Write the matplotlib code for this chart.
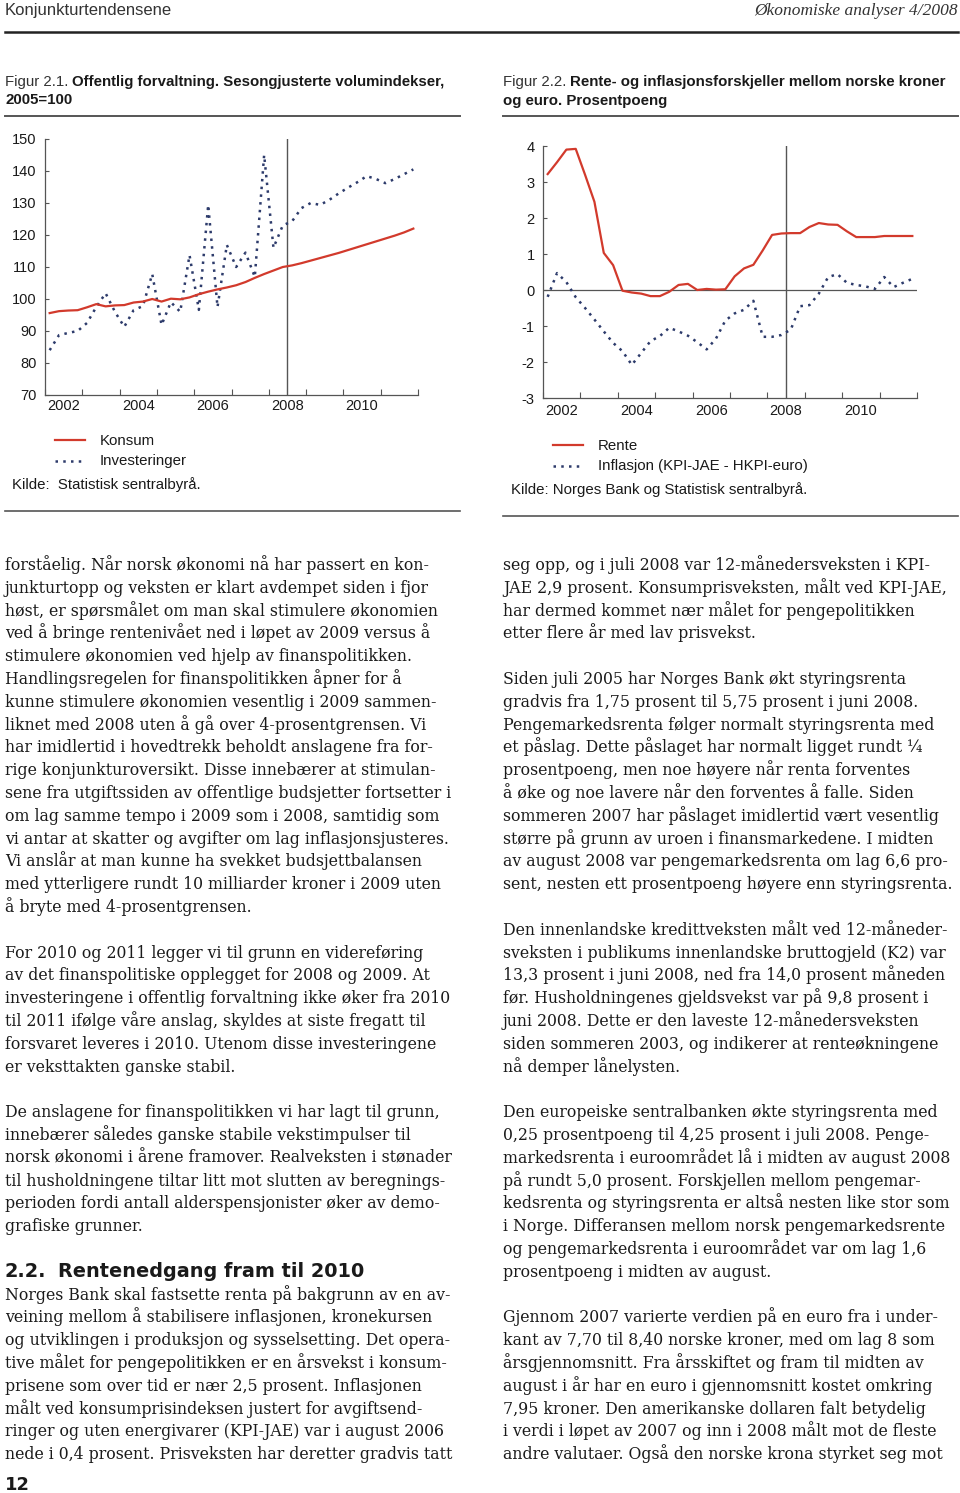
import numpy as np
import matplotlib
matplotlib.use("Agg")
import matplotlib.pyplot as plt
from matplotlib.lines import Line2D

# ---- data -------------------------------------------------------------
# quarterly observations 2002K1 - 2011K4, plotted at quarter midpoints
years = np.arange(2002, 2012)
quarters = np.array([y + (q - 0.5) / 4 for y in years for q in range(1, 5)])

# Figur 2.1 Offentlig forvaltning, 2005=100
konsum = [95.6, 96.2, 96.4, 96.5, 97.4, 98.4, 97.7, 98.0,
          98.1, 98.9, 99.2, 100.0, 99.2, 100.1, 99.9, 100.5,
          101.5, 102.3, 103.0, 103.6, 104.3, 105.3, 106.6, 107.8,
          108.9, 110.0, 110.5, 111.2, 112.0, 112.8, 113.6, 114.4,
          115.3, 116.2, 117.1, 118.0, 118.9, 119.8, 120.8, 122.0]
investeringer = [84.0, 88.7, 89.4, 90.0, 92.5, 97.5, 101.8, 96.0,
                 91.3, 96.5, 97.8, 107.8, 91.9, 99.0, 96.0, 113.7,
                 96.6, 129.4, 97.5, 116.9, 110.0, 114.5, 106.9, 145.0,
                 116.0, 123.0, 124.3, 128.4, 130.0, 129.4, 131.0, 133.0,
                 134.8, 136.5, 138.4, 137.5, 136.2, 137.5, 139.0, 140.5]

# Figur 2.2 Rente- og inflasjonsforskjeller, prosentpoeng
rente = [3.22, 3.55, 3.90, 3.92, 3.20, 2.45, 1.03, 0.69,
         -0.02, -0.07, -0.10, -0.17, -0.17, -0.05, 0.14, 0.17,
         0.00, 0.03, 0.01, 0.02, 0.38, 0.60, 0.70, 1.10,
         1.53, 1.57, 1.58, 1.58, 1.75, 1.86, 1.82, 1.81,
         1.63, 1.47, 1.47, 1.47, 1.50, 1.50, 1.50, 1.50]
inflasjon = [-0.19, 0.47, 0.22, -0.20, -0.50, -0.82, -1.15, -1.47,
             -1.70, -2.08, -1.75, -1.42, -1.28, -1.05, -1.15, -1.27,
             -1.45, -1.65, -1.35, -0.85, -0.65, -0.55, -0.30, -1.30,
             -1.30, -1.25, -1.10, -0.45, -0.42, -0.10, 0.36, 0.44,
             0.20, 0.14, 0.10, 0.03, 0.36, 0.08, 0.20, 0.31]

label_years = [2002, 2004, 2006, 2008, 2010]
prognose_start = 2008.5

left_col = [
    "forståelig. Når norsk økonomi nå har passert en kon-",
    "junkturtopp og veksten er klart avdempet siden i fjor",
    "høst, er spørsmålet om man skal stimulere økonomien",
    "ved å bringe rentenivået ned i løpet av 2009 versus å",
    "stimulere økonomien ved hjelp av finanspolitikken.",
    "Handlingsregelen for finanspolitikken åpner for å",
    "kunne stimulere økonomien vesentlig i 2009 sammen-",
    "liknet med 2008 uten å gå over 4-prosentgrensen. Vi",
    "har imidlertid i hovedtrekk beholdt anslagene fra for-",
    "rige konjunkturoversikt. Disse innebærer at stimulan-",
    "sene fra utgiftssiden av offentlige budsjetter fortsetter i",
    "om lag samme tempo i 2009 som i 2008, samtidig som",
    "vi antar at skatter og avgifter om lag inflasjonsjusteres.",
    "Vi anslår at man kunne ha svekket budsjettbalansen",
    "med ytterligere rundt 10 milliarder kroner i 2009 uten",
    "å bryte med 4-prosentgrensen.",
    "",
    "For 2010 og 2011 legger vi til grunn en videreføring",
    "av det finanspolitiske opplegget for 2008 og 2009. At",
    "investeringene i offentlig forvaltning ikke øker fra 2010",
    "til 2011 ifølge våre anslag, skyldes at siste fregatt til",
    "forsvaret leveres i 2010. Utenom disse investeringene",
    "er veksttakten ganske stabil.",
    "",
    "De anslagene for finanspolitikken vi har lagt til grunn,",
    "innebærer således ganske stabile vekstimpulser til",
    "norsk økonomi i årene framover. Realveksten i stønader",
    "til husholdningene tiltar litt mot slutten av beregnings-",
    "perioden fordi antall alderspensjonister øker av demo-",
    "grafiske grunner.",
    "",
    "",
    "Norges Bank skal fastsette renta på bakgrunn av en av-",
    "veining mellom å stabilisere inflasjonen, kronekursen",
    "og utviklingen i produksjon og sysselsetting. Det opera-",
    "tive målet for pengepolitikken er en årsvekst i konsum-",
    "prisene som over tid er nær 2,5 prosent. Inflasjonen",
    "målt ved konsumprisindeksen justert for avgiftsend-",
    "ringer og uten energivarer (KPI-JAE) var i august 2006",
    "nede i 0,4 prosent. Prisveksten har deretter gradvis tatt",
]

right_col = [
    "seg opp, og i juli 2008 var 12-månedersveksten i KPI-",
    "JAE 2,9 prosent. Konsumprisveksten, målt ved KPI-JAE,",
    "har dermed kommet nær målet for pengepolitikken",
    "etter flere år med lav prisvekst.",
    "",
    "Siden juli 2005 har Norges Bank økt styringsrenta",
    "gradvis fra 1,75 prosent til 5,75 prosent i juni 2008.",
    "Pengemarkedsrenta følger normalt styringsrenta med",
    "et påslag. Dette påslaget har normalt ligget rundt ¼",
    "prosentpoeng, men noe høyere når renta forventes",
    "å øke og noe lavere når den forventes å falle. Siden",
    "sommeren 2007 har påslaget imidlertid vært vesentlig",
    "større på grunn av uroen i finansmarkedene. I midten",
    "av august 2008 var pengemarkedsrenta om lag 6,6 pro-",
    "sent, nesten ett prosentpoeng høyere enn styringsrenta.",
    "",
    "Den innenlandske kredittveksten målt ved 12-måneder-",
    "sveksten i publikums innenlandske bruttogjeld (K2) var",
    "13,3 prosent i juni 2008, ned fra 14,0 prosent måneden",
    "før. Husholdningenes gjeldsvekst var på 9,8 prosent i",
    "juni 2008. Dette er den laveste 12-månedersveksten",
    "siden sommeren 2003, og indikerer at renteøkningene",
    "nå demper lånelysten.",
    "",
    "Den europeiske sentralbanken økte styringsrenta med",
    "0,25 prosentpoeng til 4,25 prosent i juli 2008. Penge-",
    "markedsrenta i euroområdet lå i midten av august 2008",
    "på rundt 5,0 prosent. Forskjellen mellom pengemar-",
    "kedsrenta og styringsrenta er altså nesten like stor som",
    "i Norge. Differansen mellom norsk pengemarkedsrente",
    "og pengemarkedsrenta i euroområdet var om lag 1,6",
    "prosentpoeng i midten av august.",
    "",
    "Gjennom 2007 varierte verdien på en euro fra i under-",
    "kant av 7,70 til 8,40 norske kroner, med om lag 8 som",
    "årsgjennomsnitt. Fra årsskiftet og fram til midten av",
    "august i år har en euro i gjennomsnitt kostet omkring",
    "7,95 kroner. Den amerikanske dollaren falt betydelig",
    "i verdi i løpet av 2007 og inn i 2008 målt mot de fleste",
    "andre valutaer. Også den norske krona styrket seg mot",
]

# ---- style ------------------------------------------------------------
RED = "#d23a2c"
NAVY = "#2d3b6b"
GREY = "#555555"
TXT = "#1a1a1a"
SANS = "Liberation Sans"
SERIF = "DejaVu Serif"
W, H = 960, 1493

plt.rcParams["font.family"] = SANS

fig = plt.figure(figsize=(W / 100, H / 100), dpi=100)
bg = fig.add_axes([0, 0, 1, 1], zorder=0)
bg.set_xlim(0, W)
bg.set_ylim(H, 0)
bg.axis("off")


def box(x0, x1, ytop, ybot):
    return [x0 / W, 1 - ybot / H, (x1 - x0) / W, (ybot - ytop) / H]


def style_axes(ax, pad_y, pad_x):
    for s in ["top", "right"]:
        ax.spines[s].set_visible(False)
    for s in ["left", "bottom"]:
        ax.spines[s].set_color(GREY)
        ax.spines[s].set_linewidth(0.9)
    ax.set_xlim(2002, 2012)
    ax.set_xticks(years.tolist() + [2012])
    ax.set_xticklabels([])
    ax.set_xticks([y + 0.5 for y in label_years], minor=True)
    ax.set_xticklabels([str(y) for y in label_years], minor=True)
    ax.tick_params(axis="x", which="major", direction="in", length=4,
                   color=GREY, width=0.8)
    ax.tick_params(axis="x", which="minor", length=0, pad=pad_x,
                   labelsize=10.5, labelcolor=TXT)
    ax.tick_params(axis="y", direction="in", length=3, color=GREY,
                   width=0.8, pad=pad_y, labelsize=10.5, labelcolor=TXT)
    ax.axvline(prognose_start, color=GREY, lw=1.0, zorder=1)


dotted = dict(color=NAVY, lw=1.8, linestyle=(0, (1, 2.1)),
              dash_capstyle="butt", zorder=3)

# ---- Figur 2.1 ----------------------------------------------------------
ax1 = fig.add_axes(box(45, 418, 139, 395))
ax1.set_ylim(70, 150)
ax1.set_yticks(range(70, 151, 10))
style_axes(ax1, pad_y=6, pad_x=3)
ax1.plot(quarters, investeringer, **dotted)
ax1.plot(quarters, konsum, color=RED, lw=1.6, zorder=4)

# ---- Figur 2.2 ----------------------------------------------------------
ax2 = fig.add_axes(box(543, 917, 146, 398))
ax2.set_ylim(-3, 4)
ax2.set_yticks(range(-3, 5))
ax2.set_yticklabels([str(v) for v in range(-3, 5)])
style_axes(ax2, pad_y=6, pad_x=4)
ax2.axhline(0, color=GREY, lw=0.9, zorder=1)
ax2.plot(quarters, inflasjon, **dotted)
ax2.plot(quarters, rente, color=RED, lw=1.6, zorder=4)

# ---- page furniture -----------------------------------------------------
bg.text(5, 11, "Konjunkturtendensene", fontsize=12, color="#333333",
        va="center", ha="left")
bg.text(958, 11, "Økonomiske analyser 4/2008", fontsize=12.5, color="#333333",
        va="center", ha="right", style="italic", family="Liberation Serif")
bg.plot([5, 958], [32, 32], color="#222222", lw=1.8)

for x0, x1 in [(5, 460), (503, 958)]:
    bg.plot([x0, x1], [116, 116], color=GREY, lw=1.4)
bg.plot([5, 460], [511, 511], color=GREY, lw=1.2)
bg.plot([503, 958], [516, 516], color=GREY, lw=1.2)

fig.canvas.draw()
renderer = fig.canvas.get_renderer()
TFS = 10.8


def title(x, y, light, bold):
    t = bg.text(x, y, light, fontsize=TFS, color="#333333", va="center",
                ha="left")
    bb = t.get_window_extent(renderer)
    bg.text(bb.x1 * W / fig.bbox.width, y, bold, fontsize=TFS, color=TXT,
            va="center", ha="left", weight="bold")


title(5, 82, "Figur 2.1. ", "Offentlig forvaltning. Sesongjusterte volumindekser,")
bg.text(5, 100, "2005=100", fontsize=TFS, color=TXT, va="center", weight="bold")
title(503, 82, "Figur 2.2. ", "Rente- og inflasjonsforskjeller mellom norske kroner")
bg.text(503, 101, "og euro. Prosentpoeng", fontsize=TFS, color=TXT, va="center",
        weight="bold")

# legends
leg_kw = dict(fontsize=10.8, color=TXT, va="center", ha="left")
bg.add_line(Line2D([55, 85], [440, 440], color=RED, lw=1.6))
bg.add_line(Line2D([55, 85], [461, 461], **dotted))
bg.text(100, 441, "Konsum", **leg_kw)
bg.text(100, 461, "Investeringer", **leg_kw)
bg.text(12, 485, "Kilde:  Statistisk sentralbyrå.", **leg_kw)

bg.add_line(Line2D([553, 583], [445, 445], color=RED, lw=1.6))
bg.add_line(Line2D([553, 583], [466, 466], **dotted))
bg.text(598, 446, "Rente", **leg_kw)
bg.text(598, 466, "Inflasjon (KPI-JAE - HKPI-euro)", **leg_kw)
bg.text(511, 490, "Kilde: Norges Bank og Statistisk sentralbyrå.", **leg_kw)

# body text
LINE = 22.8
for x0, lines in [(5, left_col), (503, right_col)]:
    for i, s in enumerate(lines):
        if s:
            bg.text(x0, 570 + i * LINE, s, fontsize=11.3, family=SERIF,
                    color=TXT, va="baseline", ha="left")

head_kw = dict(fontsize=13.9, weight="bold", color=TXT, va="baseline",
               ha="left", family="DejaVu Sans")
bg.text(5, 1277, "2.2.", **head_kw)
bg.text(58, 1277, "Rentenedgang fram til 2010", **head_kw)
bg.text(5, 1490, "12", fontsize=13, weight="bold", color=TXT,
        va="baseline", ha="left", family="DejaVu Sans")

fig.savefig("out.png", dpi=100)
